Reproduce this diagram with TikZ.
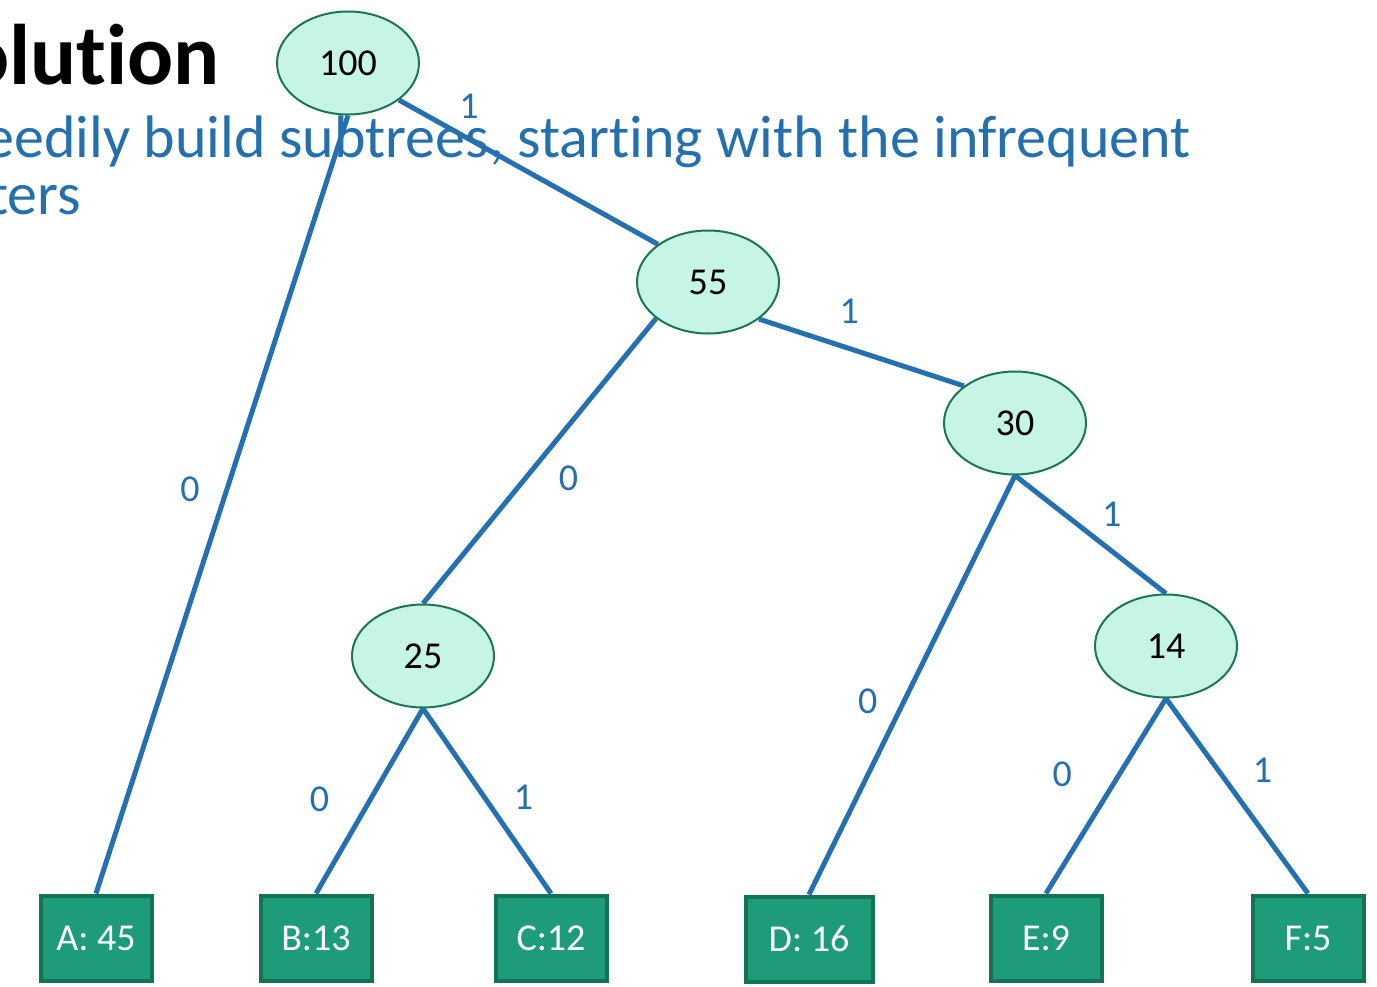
\documentclass[tikz,border=0pt]{standalone}
\usepackage{fontspec}
\setmainfont{Carlito}[Ligatures=NoCommon]
\usetikzlibrary{shapes.geometric, backgrounds}
\definecolor{edgeblue}{HTML}{2470B0}
\definecolor{textblue}{HTML}{2470AE}
\definecolor{mint}{HTML}{C6F5E6}
\definecolor{mintline}{HTML}{1B7556}
\definecolor{leafgreen}{HTML}{1E9B78}
\definecolor{leafline}{HTML}{137355}
\begin{document}
\begin{tikzpicture}[
x=1pt, y=-1pt,
inner/.style={ellipse, draw=mintline, fill=mint, line width=2pt, inner sep=0pt, minimum width=142pt, minimum height=103pt, font=\fontsize{38}{40}\selectfont},
leaf/.style={rectangle, draw=leafline, fill=leafgreen, line width=4pt, text=white, inner sep=0pt, minimum width=111pt, minimum height=85pt, font=\fontsize{38}{40}\selectfont},
bit/.style={text=textblue, inner sep=0pt, font=\fontsize{38}{40}\selectfont},
branch/.style={draw=edgeblue, line width=5pt},
]
\clip (0,0) rectangle (1377,986);
\useasboundingbox (0,0) rectangle (1377,986);

% inner nodes
\node[inner] (n100) at (348,63) {100};
\node[inner] (n55) at (708,282) {55};
\node[inner] (n30) at (1015,423) {30};
\node[inner] (n25) at (423,656) {25};
\node[inner] (n14) at (1166,646) {14};

% leaves
\node[leaf] (A) at (96,938) {A: 45};
\node[leaf] (B) at (316,938) {B:13};
\node[leaf] (C) at (551,938) {C:12};
\node[leaf, minimum width=127pt] (D) at (809,939) {D: 16};
\node[leaf] (E) at (1046,938) {E:9};
\node[leaf] (F) at (1308,938) {F:5};

\begin{scope}[on background layer]
% slide text behind the tree
\node[anchor=base east, inner sep=0pt, font=\fontsize{86}{88}\selectfont\bfseries] (title) at (220,84) {Solution};
\node[anchor=base east, inner sep=0pt, text=textblue, font=\fontsize{60}{62}\selectfont] (line1) at (1191,157) {Greedily build subtrees, starting with the infrequent};
\node[anchor=base east, inner sep=0pt, text=textblue, font=\fontsize{60}{62}\selectfont] (line2) at (81,214) {characters};

% branches with their bits
\draw[branch] (n100.south) -- node[bit, pos=0.48, xshift=-37pt] {0} (A.north);
\draw[branch] (n100.-36) -- node[bit, pos=0.27, yshift=33pt] {1} (n55.143);
\draw[branch] (n55.215) -- node[bit, pos=0.56, xshift=43pt] {0} (n25.north);
\draw[branch] (n55.324) -- node[bit, pos=0.44, yshift=37pt] {1} (n30.144);
\draw[branch] (n30.south) -- node[bit, pos=0.54, xshift=-36pt] {0} (D.north);
\draw[branch] (n30.south) -- node[bit, pos=0.64, yshift=37pt] {1} (n14.north);
\draw[branch] (n25.south) -- node[bit, pos=0.49, xshift=-51pt] {0} (B.north);
\draw[branch] (n25.south) -- node[bit, pos=0.48, xshift=39pt] {1} (C.north);
\draw[branch] (n14.south) -- node[bit, pos=0.39, xshift=-57pt] {0} (E.north);
\draw[branch] (n14.south) -- node[bit, pos=0.37, xshift=44pt] {1} (F.north);
\end{scope}
\end{tikzpicture}
\end{document}
